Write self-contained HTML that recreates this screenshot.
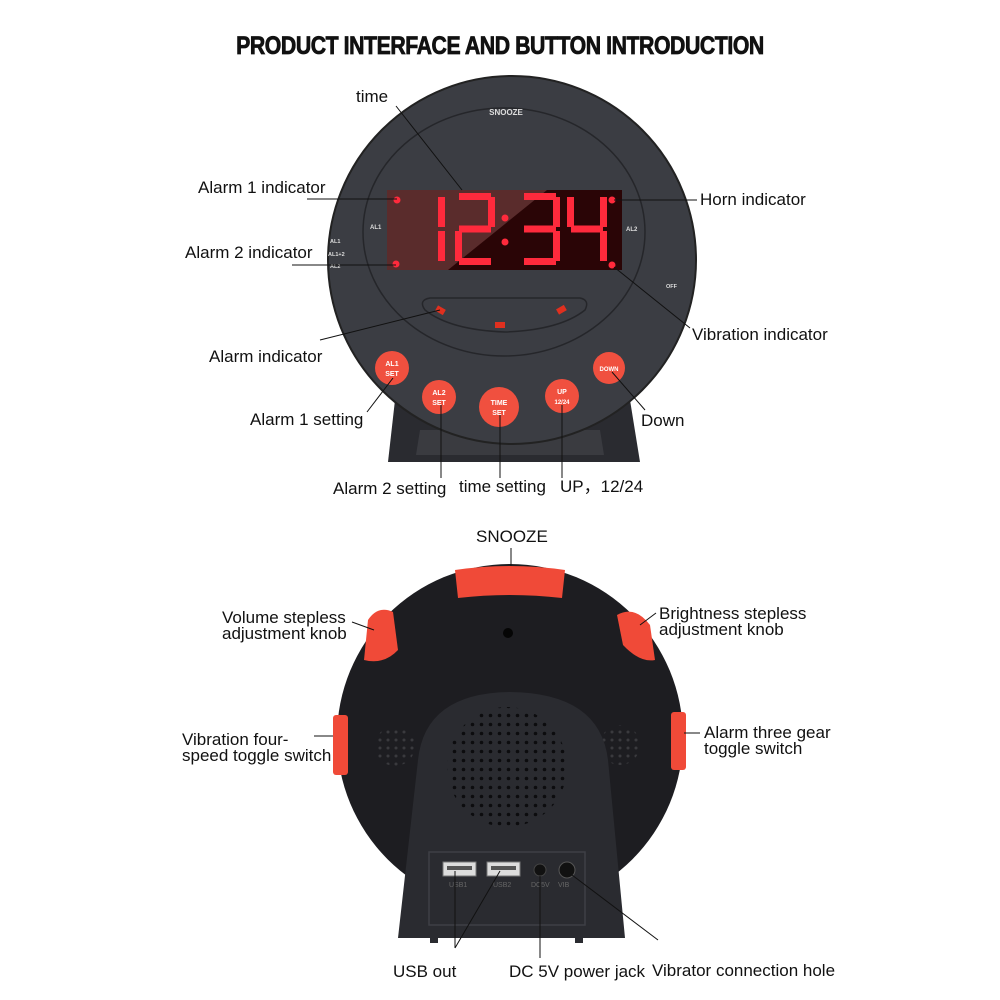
<!DOCTYPE html>
<html><head><meta charset="utf-8"><style>
body{margin:0;background:#fff}
svg{display:block}
text{font-family:"Liberation Sans",sans-serif;fill:#111}
.l{font-size:17px}
</style></head><body>
<svg width="1000" height="1000" viewBox="0 0 1000 1000" xmlns="http://www.w3.org/2000/svg">
<defs>
<pattern id="dots" width="9" height="9" patternUnits="userSpaceOnUse"><circle cx="4.5" cy="4.5" r="1.8" fill="#0c0c0e"/></pattern>
<pattern id="dots2" width="8" height="8" patternUnits="userSpaceOnUse"><circle cx="4" cy="4" r="1.5" fill="#3a3a3e"/></pattern>
</defs>
<text x="500" y="54" text-anchor="middle" style="font-size:25px;font-weight:bold;letter-spacing:-0.5px;stroke:#111;stroke-width:0.8" transform="translate(500 0) scale(0.85 1) translate(-500 0)">PRODUCT INTERFACE AND BUTTON INTRODUCTION</text>

<!-- TOP CLOCK -->
<path d="M395 400 L630 400 L640 462 L388 462 Z" fill="#2a2b30"/>
<path d="M420 430 L600 430 L604 455 L416 455 Z" fill="#3a3b40"/>
<circle cx="512" cy="260" r="184" fill="#3b3d43"/>
<circle cx="512" cy="260" r="184" fill="none" stroke="#222" stroke-width="2"/>
<ellipse cx="504" cy="232" rx="141" ry="124" fill="none" stroke="#25262a" stroke-width="1.5"/>
<text x="506" y="115" text-anchor="middle" style="font-size:8px;font-weight:bold;fill:#ddd">SNOOZE</text>
<text x="370" y="229" style="font-size:6px;font-weight:bold;fill:#ddd">AL1</text>
<text x="626" y="231" style="font-size:6px;font-weight:bold;fill:#ddd">AL2</text>
<text x="330" y="243" style="font-size:5.5px;font-weight:bold;fill:#ddd">AL1</text>
<text x="328" y="256" style="font-size:5.5px;font-weight:bold;fill:#ddd">AL1+2</text>
<text x="330" y="268" style="font-size:5.5px;font-weight:bold;fill:#ddd">AL2</text>
<text x="666" y="288" style="font-size:5.5px;font-weight:bold;fill:#ddd">OFF</text>
<rect x="387" y="190" width="235" height="80" fill="#2a0506"/>
<polygon points="387,190 547,190 448,270 387,270" fill="#5a2c2c"/>
<g fill="#ff2a3c">
<rect x="438" y="197" width="7" height="30"/><rect x="438" y="231" width="7" height="30"/>
<rect x="459" y="193" width="32" height="7"/><rect x="488" y="197" width="7" height="30"/><rect x="459" y="225.5" width="32" height="7"/><rect x="455" y="231" width="7" height="30"/><rect x="459" y="258" width="32" height="7"/>
<circle cx="505" cy="218" r="3.5"/><circle cx="505" cy="242" r="3.5"/>
<rect x="524" y="193" width="32" height="7"/><rect x="553" y="197" width="7" height="30"/><rect x="524" y="225.5" width="32" height="7"/><rect x="553" y="231" width="7" height="30"/><rect x="524" y="258" width="32" height="7"/>
<rect x="567" y="197" width="7" height="30"/><rect x="571" y="225.5" width="32" height="7"/><rect x="600" y="197" width="7" height="30"/><rect x="600" y="231" width="7" height="30"/>
<circle cx="397" cy="200" r="3.5"/><circle cx="396" cy="264" r="3.5"/><circle cx="612" cy="200" r="3.5"/><circle cx="612" cy="265" r="3.5"/>
</g>
<path d="M430 298 L580 298 Q590 300 585 310 Q560 330 505 332 Q450 330 425 310 Q418 300 430 298 Z" fill="none" stroke="#25262a" stroke-width="1.5"/>
<g fill="#e0301f"><rect x="436" y="307" width="9" height="6" transform="rotate(30 440 310)"/><rect x="495" y="322" width="10" height="6"/><rect x="557" y="307" width="9" height="6" transform="rotate(-30 561 310)"/></g>
<g fill="#f0503f">
<circle cx="392" cy="368" r="17"/><circle cx="439" cy="397" r="17"/><circle cx="499" cy="407" r="20"/><circle cx="562" cy="396" r="17"/><circle cx="609" cy="368" r="16"/>
</g>
<g style="font-size:7px;font-weight:bold;fill:#fff" text-anchor="middle">
<text x="392" y="366" style="fill:#fff">AL1</text><text x="392" y="376" style="fill:#fff">SET</text>
<text x="439" y="395" style="fill:#fff">AL2</text><text x="439" y="405" style="fill:#fff">SET</text>
<text x="499" y="405" style="fill:#fff">TIME</text><text x="499" y="415" style="fill:#fff">SET</text>
<text x="562" y="394" style="fill:#fff">UP</text><text x="562" y="404" style="fill:#fff;font-size:6px">12/24</text>
<text x="609" y="371" style="fill:#fff;font-size:6px">DOWN</text>
</g>

<g stroke="#111" stroke-width="1" fill="none">
<line x1="396" y1="106" x2="462" y2="190"/>
<line x1="307" y1="199" x2="397" y2="199"/>
<line x1="292" y1="265" x2="396" y2="265"/>
<line x1="614" y1="200" x2="697" y2="200"/>
<line x1="614" y1="267" x2="690" y2="328"/>
<line x1="320" y1="340" x2="440" y2="310"/>
<line x1="367" y1="412" x2="393" y2="378"/>
<line x1="441" y1="405" x2="441" y2="478"/>
<line x1="500" y1="415" x2="500" y2="478"/>
<line x1="562" y1="405" x2="562" y2="478"/>
<line x1="612" y1="372" x2="645" y2="410"/>
</g>
<text class="l" x="356" y="102">time</text>
<text class="l" x="198" y="193">Alarm 1 indicator</text>
<text class="l" x="185" y="258">Alarm 2 indicator</text>
<text class="l" x="700" y="205">Horn indicator</text>
<text class="l" x="692" y="340">Vibration indicator</text>
<text class="l" x="209" y="362">Alarm indicator</text>
<text class="l" x="250" y="425">Alarm 1 setting</text>
<text class="l" x="641" y="426">Down</text>
<text class="l" x="333" y="494">Alarm 2 setting</text>
<text class="l" x="459" y="492">time setting</text>
<text class="l" x="560" y="492">UP，12/24</text>

<!-- BOTTOM CLOCK -->
<circle cx="510" cy="737" r="173" fill="#1d1d21"/>
<path d="M368 620 Q378 605 393 612 L398 650 Q384 665 364 660 Z" fill="#f04a38"/>
<path d="M617 615 Q635 605 650 625 L655 660 Q640 663 623 645 Z" fill="#f04a38"/>
<rect x="333" y="715" width="15" height="60" rx="3" fill="#f04a38"/>
<rect x="671" y="712" width="15" height="58" rx="3" fill="#f04a38"/>
<path d="M455 570 Q510 562 565 570 L562 598 Q510 592 458 598 Z" fill="#f04a38"/>
<circle cx="508" cy="633" r="5" fill="#050505"/>
<circle cx="395" cy="746" r="20" fill="url(#dots2)"/>
<circle cx="620" cy="745" r="20" fill="url(#dots2)"/>
<path d="M398 938 L418 760 Q425 693 510 692 Q600 693 608 760 L625 938 Z" fill="#2a2b30"/>
<circle cx="507" cy="767" r="60" fill="url(#dots)"/>
<rect x="429" y="852" width="156" height="73" fill="none" stroke="#3e3f45" stroke-width="1.5"/>
<rect x="443" y="862" width="33" height="14" fill="#ddd" stroke="#777"/><rect x="447" y="866" width="25" height="4" fill="#555"/>
<rect x="487" y="862" width="33" height="14" fill="#ddd" stroke="#777"/><rect x="491" y="866" width="25" height="4" fill="#555"/>
<circle cx="540" cy="870" r="6" fill="#111" stroke="#444"/>
<circle cx="567" cy="870" r="8" fill="#111" stroke="#555"/>
<g style="font-size:7px;fill:#666"><text x="449" y="887" style="fill:#666">USB1</text><text x="493" y="887" style="fill:#666">USB2</text><text x="531" y="887" style="fill:#666">DC5V</text><text x="558" y="887" style="fill:#666">VIB</text></g>
<rect x="430" y="938" width="8" height="5" fill="#2a2b30"/><rect x="575" y="938" width="8" height="5" fill="#2a2b30"/>

<g stroke="#111" stroke-width="1" fill="none">
<line x1="511" y1="548" x2="511" y2="566"/>
<line x1="352" y1="622" x2="374" y2="630"/>
<line x1="656" y1="613" x2="640" y2="625"/>
<line x1="314" y1="736" x2="333" y2="736"/>
<line x1="684" y1="733" x2="700" y2="733"/>
<line x1="455" y1="871" x2="455" y2="948"/>
<line x1="500" y1="871" x2="455" y2="948"/>
<line x1="540" y1="876" x2="540" y2="958"/>
<line x1="572" y1="875" x2="658" y2="940"/>
</g>
<text class="l" x="476" y="542">SNOOZE</text>
<text class="l" x="222" y="623">Volume stepless</text>
<text class="l" x="222" y="639">adjustment knob</text>
<text class="l" x="659" y="619">Brightness stepless</text>
<text class="l" x="659" y="635">adjustment knob</text>
<text class="l" x="182" y="745">Vibration four-</text>
<text class="l" x="182" y="761">speed toggle switch</text>
<text class="l" x="704" y="738">Alarm three gear</text>
<text class="l" x="704" y="754">toggle switch</text>
<text class="l" x="393" y="977">USB  out</text>
<text class="l" x="509" y="977">DC 5V power jack</text>
<text class="l" x="652" y="976">Vibrator connection hole</text>
</svg>
</body></html>
